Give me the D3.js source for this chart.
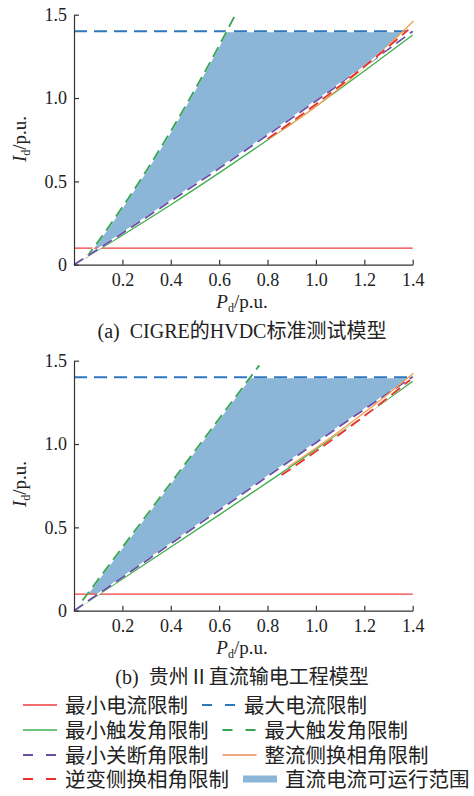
<!DOCTYPE html>
<html>
<head>
<meta charset="utf-8">
<script src="https://cdn.jsdelivr.net/npm/d3@7"></script>
<style>
  body { margin: 0; background: #fff; }
  svg { display: block; }
  text { fill: #222; }
</style>
</head>
<body>
<svg id="chart" width="474" height="796"></svg>
<script>
// ticks
var xTicks = [0.2, 0.4, 0.6, 0.8, 1.0, 1.2, 1.4];
var yTicks = [0, 0.5, 1.0, 1.5];

// current limits (p.u.)
var idMin = 0.1;
var idMax = 1.4;

// (a) CIGRE model
var aMaxFireP = [0.05, 0.1, 0.2, 0.3, 0.4, 0.5, 0.6, 0.667];
var aMaxFireI = [0.042, 0.139, 0.345, 0.566, 0.801, 1.051, 1.315, 1.50];
var aMinFireP = [0, 0.2, 0.4, 0.6, 0.8, 1.0, 1.2, 1.4];
var aMinFireI = [0, 0.177, 0.360, 0.551, 0.748, 0.951, 1.162, 1.378];
var aMinExtP = [0, 0.2, 0.4, 0.6, 0.8, 1.0, 1.2, 1.4];
var aMinExtI = [0, 0.189, 0.382, 0.578, 0.778, 0.982, 1.189, 1.400];
var aRecCommP = [0.8, 0.9, 1.0, 1.1, 1.2, 1.3, 1.403];
var aRecCommI = [0.752, 0.846, 0.950, 1.063, 1.185, 1.317, 1.462];
var aInvCommP = [0.8, 0.9, 1.0, 1.1, 1.2, 1.3, 1.382];
var aInvCommI = [0.755, 0.857, 0.963, 1.074, 1.189, 1.308, 1.410];

// (b) Guizhou II model
var bMaxFireP = [0.035, 0.2, 0.4, 0.6, 0.766];
var bMaxFireI = [0.061, 0.380, 0.766, 1.152, 1.472];
var bMinFireP = [0, 0.2, 0.4, 0.6, 0.8, 1.0, 1.2, 1.4];
var bMinFireI = [0, 0.190, 0.382, 0.575, 0.770, 0.967, 1.168, 1.376];
var bMinExtP = [0, 0.2, 0.4, 0.6, 0.8, 1.0, 1.2, 1.4];
var bMinExtI = [0, 0.200, 0.402, 0.603, 0.806, 1.008, 1.208, 1.404];
var bRecCommP = [0.886, 1.0, 1.1, 1.2, 1.3, 1.403];
var bRecCommI = [0.864, 0.976, 1.080, 1.189, 1.302, 1.424];
var bInvCommP = [0.858, 0.9, 1.0, 1.1, 1.2, 1.3, 1.389];
var bInvCommI = [0.814, 0.855, 0.956, 1.060, 1.168, 1.281, 1.384];

var legendNames = ["最小电流限制", "最大电流限制", "最小触发角限制", "最大触发角限制",
                   "最小关断角限制", "整流侧换相角限制", "逆变侧换相角限制", "直流电流可运行范围"];

var colors = {
  minCur: "#f23c3c", maxCur: "#2f77bd", minFire: "#3fae4c", maxFire: "#35a650",
  minExt: "#6a4ea6", rec: "#f2a048", inv: "#ea2e2a", fill: "#8cb6d8"
};
var FONT = "'Times New Roman', 'Liberation Serif', 'Noto Sans CJK SC', serif";

var svg = d3.select("#chart");
var x = d3.scaleLinear().domain([0, 1.4]).range([74, 412.7]);

function zip(ps, is) { return ps.map(function (p, i) { return [p, is[i]]; }); }

// linear lookup inside a curve, null when outside its range
function interp(ps, is, p) {
  if (p < ps[0] || p > ps[ps.length - 1]) return null;
  for (var i = 1; i < ps.length; i++) {
    if (p <= ps[i]) {
      var t = (p - ps[i - 1]) / (ps[i] - ps[i - 1]);
      return is[i - 1] + t * (is[i] - is[i - 1]);
    }
  }
  return is[is.length - 1];
}

function drawPanel(panel) {
  var y = d3.scaleLinear().domain([0, 1.5]).range([panel.top + 250, panel.top]);
  var g = svg.append("g");

  // operating region
  var band = [];
  for (var k = 0; k <= 1400; k++) {
    var p = k / 1000;
    var up = interp(panel.maxFire[0], panel.maxFire[1], p);
    if (up === null) {
      if (p > panel.maxFire[0][panel.maxFire[0].length - 1]) up = idMax; else continue;
    }
    up = Math.min(up, idMax);
    var lo = idMin;
    [panel.minExt, panel.rec, panel.inv].forEach(function (c) {
      var v = interp(c[0], c[1], p);
      if (v !== null) lo = Math.max(lo, v);
    });
    if (up > lo) band.push([p, up, lo]);
  }
  g.append("path")
    .datum(band)
    .attr("fill", colors.fill)
    .attr("d", d3.area()
      .x(function (d) { return x(d[0]); })
      .y0(function (d) { return y(d[2]); })
      .y1(function (d) { return y(d[1]); }));

  var line = d3.line()
    .x(function (d) { return x(d[0]); })
    .y(function (d) { return y(d[1]); })
    .curve(d3.curveMonotoneX);

  var series = [
    {pts: [[0, idMin], [1.4, idMin]], color: colors.minCur, w: 1.3},
    {pts: [[0, idMax], [1.4, idMax]], color: colors.maxCur, w: 2, dash: "13,7"},
    {pts: zip(panel.minFire[0], panel.minFire[1]), color: colors.minFire, w: 1.3},
    {pts: zip(panel.maxFire[0], panel.maxFire[1]), color: colors.maxFire, w: 1.8, dash: "11,6"},
    {pts: zip(panel.minExt[0], panel.minExt[1]), color: colors.minExt, w: 1.8, dash: "11,6"},
    {pts: zip(panel.rec[0], panel.rec[1]), color: colors.rec, w: 1.3},
    {pts: zip(panel.inv[0], panel.inv[1]), color: colors.inv, w: 1.8, dash: "11,6"}
  ];

  series.forEach(function (s) {
    if (s.dash) {
      g.append("path").datum(s.pts)
        .attr("fill", "none").attr("stroke", "#fff").attr("stroke-width", s.w)
        .attr("d", line);
    }
    g.append("path").datum(s.pts)
      .attr("fill", "none")
      .attr("stroke", s.color)
      .attr("stroke-width", s.w)
      .attr("stroke-dasharray", s.dash || null)
      .attr("d", line);
  });

  // axes
  var gx = g.append("g")
    .attr("transform", "translate(0," + y(0) + ")")
    .call(d3.axisBottom(x).tickValues(xTicks).tickFormat(d3.format(".1f"))
      .tickSizeInner(-5).tickSizeOuter(0).tickPadding(9));
  var gy = g.append("g")
    .attr("transform", "translate(" + x(0) + ",0)")
    .call(d3.axisLeft(y).tickValues(yTicks)
      .tickFormat(function (d) { return d === 0 ? "0" : d3.format(".1f")(d); })
      .tickSizeInner(-5).tickSizeOuter(0).tickPadding(7));
  [gx, gy].forEach(function (a) {
    a.attr("font-family", FONT).attr("font-size", 18);
    a.selectAll("path, line").attr("stroke", "#333").attr("stroke-width", 1.2);
    a.selectAll("text").attr("fill", "#222");
  });

  // axis titles
  var yl = g.append("text")
    .attr("transform", "translate(26," + panel.yLabelY + ") rotate(-90)")
    .attr("text-anchor", "middle")
    .attr("font-family", FONT)
    .attr("font-size", 19);
  yl.append("tspan").attr("font-style", "italic").text("I");
  yl.append("tspan").attr("font-size", 12).attr("dy", 4).text("d");
  yl.append("tspan").attr("dy", -4).text("/p.u.");

  var xl = g.append("text")
    .attr("x", 242).attr("y", y(0) + 43)
    .attr("text-anchor", "middle")
    .attr("font-family", FONT)
    .attr("font-size", 19);
  xl.append("tspan").attr("font-style", "italic").text("P");
  xl.append("tspan").attr("font-size", 12).attr("dy", 4).text("d");
  xl.append("tspan").attr("dy", -4).text("/p.u.");

  g.append("text")
    .attr("x", 242).attr("y", panel.captionY)
    .attr("text-anchor", "middle")
    .attr("font-family", FONT)
    .attr("font-size", 20)
    .attr("xml:space", "preserve")
    .text(panel.caption);
}

drawPanel({
  top: 14.7, yLabelY: 139, captionY: 338, caption: "(a)  CIGRE的HVDC标准测试模型",
  maxFire: [aMaxFireP, aMaxFireI], minFire: [aMinFireP, aMinFireI],
  minExt: [aMinExtP, aMinExtI], rec: [aRecCommP, aRecCommI], inv: [aInvCommP, aInvCommI]
});
drawPanel({
  top: 360.7, yLabelY: 484, captionY: 684, caption: "(b)  贵州Ⅱ直流输电工程模型",
  maxFire: [bMaxFireP, bMaxFireI], minFire: [bMinFireP, bMinFireI],
  minExt: [bMinExtP, bMinExtI], rec: [bRecCommP, bRecCommI], inv: [bInvCommP, bInvCommI]
});

// legend
var legendItems = [
  {type: "line", color: colors.minCur}, {type: "line", color: colors.maxCur, dash: "10,13"},
  {type: "line", color: colors.minFire}, {type: "line", color: colors.maxFire, dash: "10,13"},
  {type: "line", color: colors.minExt, dash: "10,13"}, {type: "line", color: "#e98a5a"},
  {type: "line", color: colors.inv, dash: "10,13"}, {type: "rect", color: colors.fill}
];
var legend = svg.append("g");
var rowY = [705, 730, 755, 779];
for (var r = 0; r < 4; r++) {
  var xPos = 23;
  for (var c = 0; c < 2; c++) {
    var idx = r * 2 + c;
    var it = legendItems[idx];
    if (it.type === "rect") {
      legend.append("rect").attr("x", xPos).attr("y", rowY[r] - 3.5)
        .attr("width", 34).attr("height", 7).attr("fill", it.color);
    } else {
      legend.append("line")
        .attr("x1", xPos).attr("x2", xPos + 34)
        .attr("y1", rowY[r]).attr("y2", rowY[r])
        .attr("stroke", it.color).attr("stroke-width", it.dash ? 2 : 1.4)
        .attr("stroke-dasharray", it.dash || null);
    }
    var t = legend.append("text")
      .attr("x", xPos + 42).attr("y", rowY[r] + 7.5)
      .attr("font-family", FONT)
      .attr("font-size", 20.5)
      .text(legendNames[idx]);
    xPos = xPos + 42 + t.node().getComputedTextLength() + 14;
  }
}
</script>
</body>
</html>
